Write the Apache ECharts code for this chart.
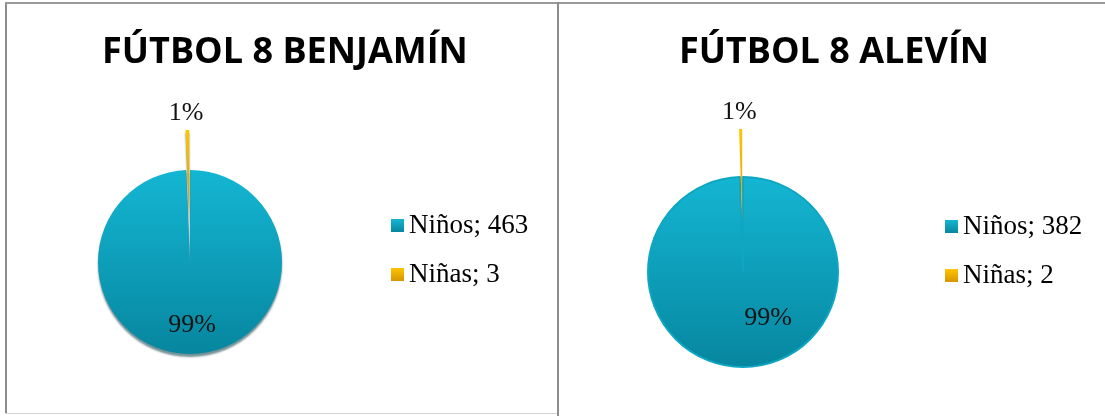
<!DOCTYPE html>
<html>
<head>
<meta charset="utf-8">
<script src="https://cdn.jsdelivr.net/npm/echarts@6/dist/echarts.min.js"></script>
<style>
  html, body { margin: 0; padding: 0; background: #fff; }
  #chart { position: absolute; left: 0; top: 0; width: 1105px; height: 416px; }
  .line { position: absolute; background: #8c8c8c; }
</style>
</head>
<body>
<div id="chart"></div>
<div class="line" style="left:5px;top:2px;width:2px;height:412px"></div>
<div class="line" style="left:5px;top:2px;width:1100px;height:2px;background:#9a9a9a"></div>
<div class="line" style="left:557px;top:2px;width:2px;height:414px"></div>
<div class="line" style="left:5px;top:413px;width:552px;height:1px;background:#d4d4d4"></div>
<script>
// data
const categories = ['Niños', 'Niñas']
const benjaminValues = [463, 3]
const alevinValues = [382, 2]
const titles = ['FÚTBOL 8 BENJAMÍN', 'FÚTBOL 8 ALEVÍN']

const serif = '"Liberation Serif", "DejaVu Serif", serif'

const cyan = new echarts.graphic.LinearGradient(0, 0, 0, 1, [
  { offset: 0, color: '#14b6d3' },
  { offset: 1, color: '#07869f' }
])
const gold = new echarts.graphic.LinearGradient(0, 0, 0, 1, [
  { offset: 0, color: '#ffc400' },
  { offset: 1, color: '#d69600' }
])

// small slice first so the big one is painted over it
const pieData = (values, border) => [
  {
    name: categories[1], value: values[1], selected: true,
    itemStyle: { color: gold },
    label: { position: 'outside' }
  },
  {
    name: categories[0], value: values[0],
    itemStyle: border
      ? { color: cyan, borderColor: '#0ea6c2', borderWidth: 2 }
      : { color: cyan }
  }
]

const startAngle = (values) => 90 + 360 * values[1] / (values[0] + values[1])

const chart = echarts.init(document.getElementById('chart'), undefined, { renderer: 'canvas' })

const legendFormatter = (values) => (name) => name + '; ' + values[categories.indexOf(name)]

// labelPos holds the wanted centre of each label; moved with dx/dy.
// labelRect of the pulled-out slice does not count the explode offset (it points up)
const pieSeries = (values, center, radius, offset, labelPos, shadow) => ({
  type: 'pie',
  center: center,
  radius: radius,
  startAngle: startAngle(values),
  clockwise: true,
  selectedMode: 'multiple',
  selectedOffset: offset,
  animation: false,
  emphasis: { scale: false },
  itemStyle: shadow ? { shadowColor: 'rgba(0, 55, 65, 0.55)', shadowBlur: 2, shadowOffsetY: 3 } : {},
  label: {
    show: true,
    position: 'inside',
    fontFamily: serif,
    fontSize: 26,
    color: '#111',
    formatter: (p) => Math.round(p.percent) + '%'
  },
  labelLine: { show: false },
  labelLayout: (p) => {
    const r = p.labelRect
    const lift = p.dataIndex === 0 ? offset : 0
    return {
      dx: labelPos[p.dataIndex][0] - (r.x + r.width / 2),
      dy: labelPos[p.dataIndex][1] - (r.y + r.height / 2) + lift
    }
  },
  data: pieData(values, !shadow)
})

const legend = (left, top, values) => ({
  orient: 'vertical',
  left: left,
  top: top,
  itemWidth: 13,
  itemHeight: 13,
  itemGap: 22,
  icon: 'rect',
  data: categories,
  selectedMode: false,
  formatter: legendFormatter(values),
  textStyle: { fontFamily: serif, fontSize: 27, color: '#000' }
})

const option = {
  title: titles.map((t, i) => ({
    text: t,
    left: i === 0 ? 280 : 829,
    top: 30,
    textAlign: 'center',
    textStyle: { fontFamily: '"Open Sans", sans-serif', fontWeight: 'bold', fontSize: 36, color: '#000' }
  })),
  legend: [
    legend(386, 207, benjaminValues),
    legend(940, 208, alevinValues)
  ],
  series: [
    pieSeries(benjaminValues, [190, 262], 92, 40, [[187, 113], [192, 325]], true),
    pieSeries(alevinValues, [743, 272], 95, 48, [[740, 112], [768, 318]], false)
  ]
}

chart.setOption(option)
</script>
</body>
</html>
